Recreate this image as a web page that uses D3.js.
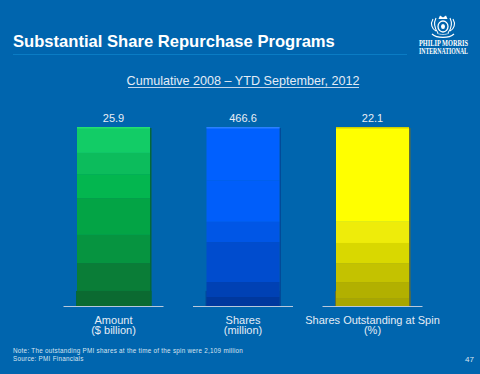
<!DOCTYPE html>
<html><head><meta charset="utf-8">
<script src="https://cdn.jsdelivr.net/npm/d3@7"></script>
<style>html,body{margin:0;padding:0;background:#0065AE}svg{display:block}text{font-family:"Liberation Sans",Arial,sans-serif}</style>
</head><body><svg id="c" width="480" height="374"></svg>
<script>
const categories = ["Amount", "Shares", "Shares Outstanding at Spin"];
const subLabels = ["($ billion)", "(million)", "(%)"];
const values = [25.9, 466.6, 22.1];
const valueLabels = ["25.9", "466.6", "22.1"];
const title = "Substantial Share Repurchase Programs";
const subtitle = "Cumulative 2008 – YTD September, 2012";
const notes = ["Note: The outstanding PMI shares at the time of the spin were 2,109 million", "Source: PMI Financials"];
const pageNumber = "47";
const logoLines = ["PHILIP MORRIS", "INTERNATIONAL"];
const bandStops = [
  [1, .855, .737, .603, .397, .24, .084],
  [1, .70, .47, .357, .134, .05],
  [1, .47, .352, .24, .134, .04]
];
const bandColors = [
  ["#12CC66", "#0CBC5C", "#03B64F", "#03A445", "#069440", "#0A7D37", "#0B6A31"],
  ["#0060FF", "#005EFA", "#0056E6", "#004CCE", "#0041B4", "#00389E"],
  ["#FFFF00", "#EEEC0A", "#D9D800", "#C4C200", "#B2B000", "#A8A600"]
];
const edgeColors = ["#22E070", "#2A80FF", "#D0D000"];
const sideShade = ["#05683A", "#034A98", "#5F6E38"];

const svg = d3.select("#c");
const x = d3.scalePoint().domain(categories).range([113.5, 372.5]);
const barWidth = 73, baseY = 306, topY = 127;

svg.append("text").attr("x", 13).attr("y", 47.4).attr("font-size", 16.6).attr("font-weight", 700).attr("fill", "#fff").text(title);
svg.append("line").attr("x1", 13).attr("x2", 407).attr("y1", 54.5).attr("y2", 54.5).attr("stroke", "#0A7CC4").attr("stroke-width", 1.2);
svg.append("text").attr("x", 243).attr("y", 85).attr("text-anchor", "middle").attr("font-size", 12.6).attr("fill", "#E4ECF6").text(subtitle);
svg.append("line").attr("x1", 128).attr("x2", 359).attr("y1", 87.5).attr("y2", 87.5).attr("stroke", "#C4D6EA").attr("stroke-width", 1);

categories.forEach((c, i) => {
  const y = d3.scaleLinear().domain([0, values[i]]).range([baseY, topY]);
  const g = svg.append("g");
  const cx = x(c), left = cx - barWidth / 2;
  g.append("rect").attr("x", left + barWidth).attr("y", y(values[i]) + 1).attr("width", 1.5).attr("height", baseY - y(values[i]) - 1).attr("fill", sideShade[i]);
  g.append("rect").attr("x", left - 1).attr("y", y(values[i] * .084)).attr("width", barWidth + 2.5).attr("height", y(0) - y(values[i] * .084)).attr("fill", sideShade[i]);
  const stops = bandStops[i];
  g.selectAll("rect.b").data(stops).join("rect").attr("class", "b")
    .attr("x", left).attr("width", barWidth)
    .attr("y", d => y(d * values[i]))
    .attr("height", (d, j) => y((stops[j + 1] ?? 0) * values[i]) - y(d * values[i]))
    .attr("fill", (d, j) => bandColors[i][j]);
  g.append("rect").attr("x", left).attr("y", y(values[i])).attr("width", barWidth).attr("height", 1.5).attr("fill", edgeColors[i]);
  g.append("line").attr("x1", cx - 50).attr("x2", cx + 50).attr("y1", baseY + .5).attr("y2", baseY + .5).attr("stroke", "#B8C8DC");
  g.append("text").attr("x", cx).attr("y", 121.5).attr("text-anchor", "middle").attr("font-size", 11).attr("fill", "#E8EEF6").text(valueLabels[i]);
  g.append("text").attr("x", cx).attr("y", 323.5).attr("text-anchor", "middle").attr("font-size", 11).attr("fill", "#E4ECF6").text(c);
  g.append("text").attr("x", cx).attr("y", 333.8).attr("text-anchor", "middle").attr("font-size", 11).attr("fill", "#E4ECF6").text(subLabels[i]);
});

notes.forEach((n, i) => svg.append("text").attr("x", 13).attr("y", 353 + i * 8.3).attr("font-size", 6.3).attr("letter-spacing", .27).attr("fill", "#D8E4F0").text(n));
svg.append("text").attr("x", 474).attr("y", 362).attr("text-anchor", "end").attr("font-size", 8).attr("fill", "#D8E4F0").text(pageNumber);

const logo = svg.append("g").attr("fill", "#fff");
const stroke = (d, w) => logo.append("path").attr("d", d).attr("fill", "none").attr("stroke", "#fff").attr("stroke-width", w);
logo.append("ellipse").attr("cx", 443).attr("cy", 26.5).attr("rx", 5).attr("ry", 5.5).attr("fill", "none").attr("stroke", "#fff").attr("stroke-width", 1.3);
logo.append("ellipse").attr("cx", 443).attr("cy", 26.5).attr("rx", 2).attr("ry", 2.6);
logo.append("path").attr("d", "M438.5 19 L440 15.5 L443 17.5 L446 15.5 L447.5 19 Z");
stroke("M433 19 C430 24 432 29 436 31 M436 18 C433 24 435 29 438 33", 1.1);
stroke("M453 19 C456 24 454 29 450 31 M450 18 C453 24 451 29 448 33", 1.1);
stroke("M432 34 C437 38.5 449 38.5 454 34", 1.3);
stroke("M437 33 C440 35 446 35 449 33", .7);
logoLines.forEach((t, i) => {
  const el = logo.append("text").attr("font-weight", 700).attr("font-size", 7.2).style("font-family", "'Liberation Serif'").text(t);
  const k = 49 / el.node().getComputedTextLength();
  el.attr("transform", `translate(419,${46 + i * 7.8}) scale(${k},1)`);
});
</script></body></html>
